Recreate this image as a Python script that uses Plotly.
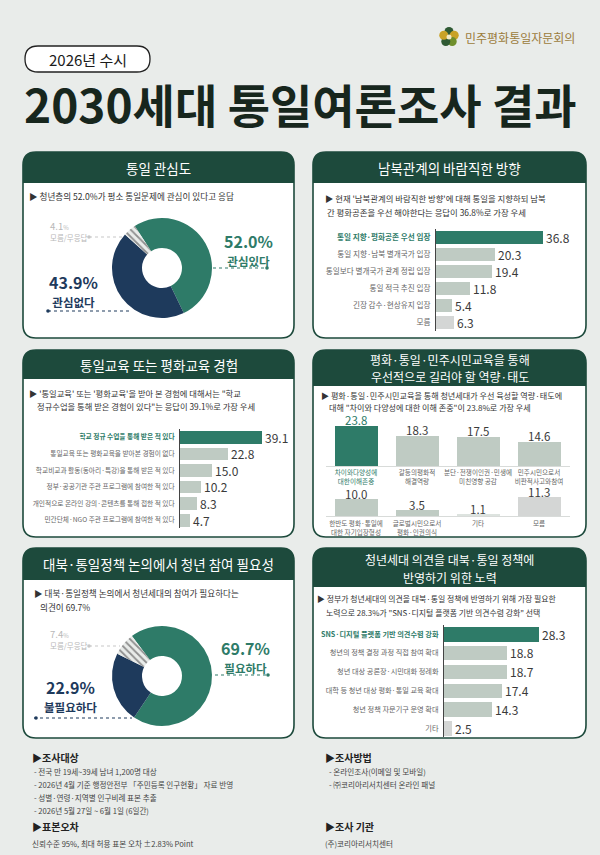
import plotly.graph_objects as go
import math

W, H = 600, 855
FONT = "Noto Sans CJK KR"
TEAL = "#2e7b68"
NAVY = "#1e3a5c"
DARK = "#1d4a3c"
BG = "#e9ecea"
GRAYG = "#bfcbc3"
LGRAY = "#d4d6d5"
VLGRAY = "#dde3df"
TXT = "#3a3a3a"
LBL = "#666666"

# ---------------- data ----------------
interest_labels = ["관심있다", "관심없다", "모름/무응답"]
interest_values = [52.0, 43.9, 4.1]

direction_labels = ["통일 지향·평화공존 우선 입장", "통일 지향·남북 별개국가 입장",
                    "통일보다 별개국가 관계 정립 입장", "통일 적극 추진 입장",
                    "긴장 감수·현상유지 입장", "모름"]
direction_values = [36.8, 20.3, 19.4, 11.8, 5.4, 6.3]

edu_labels = ["학교 정규 수업을 통해 받은 적 있다", "통일교육 또는 평화교육을 받아본 경험이 없다",
              "학교비교과 활동(동아리·특강)을 통해 받은 적 있다", "정부·공공기관 주관 프로그램에 참여한 적 있다",
              "개인적으로 온라인 강의·콘텐츠를 통해 접한 적 있다", "민간단체·NGO 주관 프로그램에 참여한 적 있다"]
edu_values = [39.1, 22.8, 15.0, 10.2, 8.3, 4.7]

comp_row1_labels = ["차이와다양성에<br>대한이해존중", "갈등의평화적<br>해결역량",
                    "분단·전쟁이인권·민생에<br>미친영향 공감", "민주시민으로서<br>비판적사고와참여"]
comp_row1_values = [23.8, 18.3, 17.5, 14.6]
comp_row2_labels = ["한반도 평화·통일에<br>대한 자기입장형성", "글로벌시민으로서<br>평화·인권의식", "기타", "모름"]
comp_row2_values = [10.0, 3.5, 1.1, 11.3]

need_labels = ["필요하다", "불필요하다", "모름/무응답"]
need_values = [69.7, 22.9, 7.4]

effort_labels = ["SNS·디지털 플랫폼 기반 의견수렴 강화", "청년의 정책 결정 과정 직접 참여 확대",
                 "청년 대상 공론장·시민대화 정례화", "대학 등 청년 대상 평화·통일 교육 확대",
                 "청년 정책 자문기구 운영 확대", "기타"]
effort_values = [28.3, 18.8, 18.7, 17.4, 14.3, 2.5]

# ---------------- helpers ----------------
def px(x):
    return x / W

def py(y):
    return 1 - y / H

def pth(x, y):
    return f"{px(x):.5f},{py(y):.5f}"

def rrect(x0, y0, x1, y1, r, top_only=False):
    s = f"M {pth(x0 + r, y0)} L {pth(x1 - r, y0)} Q {pth(x1, y0)} {pth(x1, y0 + r)} "
    if top_only:
        s += f"L {pth(x1, y1)} L {pth(x0, y1)} "
    else:
        s += (f"L {pth(x1, y1 - r)} Q {pth(x1, y1)} {pth(x1 - r, y1)} "
              f"L {pth(x0 + r, y1)} Q {pth(x0, y1)} {pth(x0, y1 - r)} ")
    s += f"L {pth(x0, y0 + r)} Q {pth(x0, y0)} {pth(x0 + r, y0)} Z"
    return s

shapes = []
annots = []

def ann(text, x, y, size, color=TXT, xanchor="left", bold=False, align="left"):
    if bold:
        text = f"<b>{text}</b>"
    annots.append(dict(text=text, x=px(x), y=py(y), xref="paper", yref="paper",
                       xanchor=xanchor, yanchor="middle", showarrow=False,
                       font=dict(family=FONT, size=size, color=color), align=align))

def dotline(x0, x1, y, color, dot_x):
    shapes.append(dict(type="line", xref="paper", yref="paper", x0=px(x0), x1=px(x1),
                       y0=py(y), y1=py(y), line=dict(color=color, width=1.2, dash="dot")))
    r = 1.8
    shapes.append(dict(type="circle", xref="paper", yref="paper", x0=px(dot_x - r), x1=px(dot_x + r),
                       y0=py(y - r), y1=py(y + r), fillcolor=color, line=dict(width=0)))

# ---------------- header ----------------
shapes.append(dict(type="path", xref="paper", yref="paper", path=rrect(25, 46, 150, 72, 13),
                   fillcolor="white", line=dict(color="#222", width=1.3), layer="below"))
ann("2026년 수시", 87.5, 59, 15, "#1b1b1b", "center")
ann("2030세대 통일여론조사 결과", 300, 103, 46, "#17261d", "center", bold=True)

# emblem
ecx, ecy = 449, 37
emb_cols = ["#2f5a34", "#c9a227", "#6f8f2c", "#2f5a34", "#c9a227"]
for i in range(5):
    a = math.radians(-90 + 72 * i)
    cx, cy = ecx + 5.5 * math.cos(a), ecy + 5.5 * math.sin(a)
    shapes.append(dict(type="circle", xref="paper", yref="paper", x0=px(cx - 4.5), x1=px(cx + 4.5),
                       y0=py(cy + 4.5), y1=py(cy - 4.5), fillcolor=emb_cols[i], line=dict(width=0)))
shapes.append(dict(type="circle", xref="paper", yref="paper", x0=px(ecx - 2.5), x1=px(ecx + 2.5),
                   y0=py(ecy + 2.5), y1=py(ecy - 2.5), fillcolor="#f3e9c6", line=dict(width=0)))
ann("민주평화통일자문회의", 463, 38, 12, "#9b7b3a")

# ---------------- panels ----------------
panels = [
    (23, 152, 294, 338, 183, ["통일 관심도"], 0),
    (313, 152, 586, 338, 183, ["남북관계의 바람직한 방향"], 0),
    (23, 350, 294, 537, 379, ["통일교육 또는 평화교육 경험"], 0),
    (313, 350, 586, 537, 386, ["평화·통일·민주시민교육을 통해", "우선적으로 길러야 할 역량·태도"], 0),
    (23, 548, 294, 738, 580, ["대북·통일정책 논의에서 청년 참여 필요성"], 0),
    (313, 548, 586, 738, 587, ["청년세대 의견을 대북·통일 정책에", "반영하기 위한 노력"], 1),
]
for (x0, y0, x1, y1, hy, titles, dy) in panels:
    shapes.append(dict(type="path", xref="paper", yref="paper", path=rrect(x0, y0, x1, y1, 13),
                       fillcolor="white", line=dict(width=0), layer="below"))
    shapes.append(dict(type="path", xref="paper", yref="paper", path=rrect(x0, y0, x1, hy, 13, True),
                       fillcolor=DARK, line=dict(width=0), layer="below"))
    shapes.append(dict(type="path", xref="paper", yref="paper", path=rrect(x0, y0, x1, y1, 13),
                       fillcolor="rgba(0,0,0,0)", line=dict(color=DARK, width=1.6), layer="below"))
    cx = (x0 + x1) / 2
    mid = (y0 + hy) / 2 + dy
    if len(titles) == 1:
        ann(titles[0], cx, mid, 13.5, "white", "center")
    else:
        ann(titles[0], cx, mid - 8.8, 12, "white", "center")
        ann(titles[1], cx, mid + 8.8, 12, "white", "center")

# subtitles
ann("▶ 청년층의 52.0%가 평소 통일문제에 관심이 있다고 응답", 27, 196, 8.6, "#333")
ann("▶ 현재 '남북관계의 바람직한 방향'에 대해 통일을 지향하되 남북", 323, 198, 8.4, "#333")
ann("간 평화공존을 우선 해야한다는 응답이 36.8%로 가장 우세", 325, 212, 8.4, "#333")
ann("▶ '통일교육' 또는 '평화교육'을 받아 본 경험에 대해서는 \"학교", 27, 393, 8.3, "#333")
ann("정규수업을 통해 받은 경험이 있다\"는 응답이 39.1%로 가장 우세", 35, 406, 8.3, "#333")
ann("▶ 평화·통일·민주시민교육을 통해 청년세대가 우선 육성할 역량·태도에", 319, 395, 8.1, "#333")
ann("대해 \"차이와 다양성에 대한 이해 존중\"이 23.8%로 가장 우세", 327, 408, 8.1, "#333")
ann("▶ 대북·통일정책 논의에서 청년세대의 참여가 필요하다는", 32, 593, 8.6, "#333")
ann("의견이 69.7%", 38, 607, 8.6, "#333")
ann("▶ 정부가 청년세대의 의견을 대북·통일 정책에 반영하기 위해 가장 필요한", 315, 598, 7.9, "#333")
ann("노력으로 28.3%가 \"SNS·디지털 플랫폼 기반 의견수렴 강화\" 선택", 324, 612, 7.9, "#333")

# ---------------- donuts ----------------
traces = []
def donut(labels, values, cx, cy, r, rot):
    traces.append(go.Pie(labels=labels, values=values, sort=False, direction="clockwise",
                         rotation=rot, hole=0.4, textinfo="none", hoverinfo="label+value",
                         domain=dict(x=[px(cx - r), px(cx + r)], y=[py(cy + r), py(cy - r)]),
                         marker=dict(colors=[TEAL, NAVY, "white"], line=dict(width=0),
                                     pattern=dict(shape=["", "", "\\"], fgcolor="#8f8f8f",
                                                  size=5, solidity=0.35)),
                         showlegend=False))

donut(interest_labels, interest_values, 162, 268, 50, -33)
donut(need_labels, need_values, 162, 676, 50, -37)

def big_label(value, label, x, y, color):
    ann(f"<b><span style='font-size:16px'>{value:.1f}%</span></b><br>"
        f"<b><span style='font-size:11.5px'>{label}</span></b>",
        x, y, 13.5, color, "center", align="center")

def small_label(value, label, x, y):
    ann(f"<span style='font-size:9.5px'>{value:.1f}<span style='font-size:6px'>%</span></span>"
        f"<br><span style='font-size:7.5px'>{label}</span>", x, y, 8.5, "#b8b8b8", "left", align="left")

# donut labels panel 1
big_label(interest_values[0], interest_labels[0], 248, 249, TEAL)
dotline(213, 267, 268, TEAL, 267)
big_label(interest_values[1], interest_labels[1], 73, 290, NAVY)
dotline(48, 130, 311, NAVY, 48)
small_label(interest_values[2], interest_labels[2], 48, 231)
dotline(89, 122, 237, "#c8c8c8", 89)

# donut labels panel 5
big_label(need_values[0], need_labels[0], 246, 656, TEAL)
dotline(215, 268, 675, TEAL, 268)
big_label(need_values[1], need_labels[1], 70, 695, NAVY)
dotline(34, 132, 718, NAVY, 36)
small_label(need_values[2], need_labels[2], 48, 639)
dotline(89, 120, 646, "#c8c8c8", 89)

# ---------------- horizontal bars ----------------
layout_axes = {}

def hbar(n, labels, values, colors, zero_x, ppu, rng, yc0, yc1, fsize):
    step = (yc1 - yc0) / (len(labels) - 1)
    ytop, ybot = yc0 - step / 2, yc1 + step / 2
    ticktext = [f"<b><span style='color:{TEAL}'>{labels[0]}</span></b>"] + labels[1:]
    traces.append(go.Bar(x=values, y=labels, orientation="h", xaxis=f"x{n}", yaxis=f"y{n}",
                         marker=dict(color=colors, line=dict(width=0)), width=0.76,
                         text=[f"{v:.1f}" for v in values], textposition="outside",
                         textfont=dict(family=FONT, size=12, color=TXT), cliponaxis=False,
                         constraintext="none", showlegend=False))
    layout_axes[f"xaxis{n}"] = dict(domain=[px(zero_x), px(zero_x + ppu * rng)], range=[0, rng],
                                    visible=False, anchor=f"y{n}", fixedrange=True)
    layout_axes[f"yaxis{n}"] = dict(domain=[py(ybot), py(ytop)], anchor=f"x{n}", type="category",
                                    categoryorder="array", categoryarray=labels,
                                    range=[len(labels) - 0.5, -0.5], showline=True,
                                    linecolor="#444", linewidth=1, ticks="", showgrid=False,
                                    zeroline=False, tickmode="array", tickvals=labels,
                                    ticktext=ticktext, tickfont=dict(family=FONT, size=fsize, color=LBL),
                                    ticklabelstandoff=3, fixedrange=True)

hbar(2, direction_labels, direction_values, [TEAL, GRAYG, GRAYG, GRAYG, GRAYG, LGRAY],
     436, 2.91, 45, 237, 322, 7.6)
hbar(3, edu_labels, edu_values, [TEAL, GRAYG, GRAYG, GRAYG, GRAYG, GRAYG],
     180, 2.1, 50, 437, 520, 6.7)
hbar(6, effort_labels, effort_values, [TEAL, GRAYG, GRAYG, GRAYG, GRAYG, LGRAY],
     444, 3.36, 40, 634, 728, 7.2)

# ---------------- vertical bars (panel 4) ----------------
def vbar(n, labels, values, colors, tcolors, base_y, first_teal, standoff, yshift):
    ticktext = list(labels)
    if first_teal:
        ticktext[0] = f"<span style='color:{TEAL}'>{labels[0]}</span>"
    traces.append(go.Bar(x=labels, y=values, xaxis=f"x{n}", yaxis=f"y{n}",
                         marker=dict(color=colors, line=dict(width=0)), width=0.69,
                         cliponaxis=False, showlegend=False))
    for lab, v, c in zip(labels, values, tcolors):
        annots.append(dict(text=f"{v:.1f}", x=lab, y=v, xref=f"x{n}", yref=f"y{n}",
                           xanchor="center", yanchor="bottom", yshift=yshift, showarrow=False,
                           borderpad=0, font=dict(family=FONT, size=11.5, color=c)))
    layout_axes[f"xaxis{n}"] = dict(domain=[px(325.5), px(569.5)], anchor=f"y{n}", type="category",
                                    categoryorder="array", categoryarray=labels, range=[-0.5, 3.5],
                                    showline=True, linecolor="#d8dbd9", linewidth=1, ticks="",
                                    showgrid=False, zeroline=False, tickmode="array", tickvals=labels,
                                    ticktext=ticktext, tickangle=0,
                                    tickfont=dict(family=FONT, size=6.6, color=LBL),
                                    ticklabelstandoff=standoff, fixedrange=True)
    layout_axes[f"yaxis{n}"] = dict(domain=[py(base_y), py(base_y - 50)], range=[0, 30],
                                    visible=False, anchor=f"x{n}", fixedrange=True)

vbar(4, comp_row1_labels, comp_row1_values, [TEAL, GRAYG, GRAYG, GRAYG],
     [TEAL, TXT, TXT, TXT], 466, True, 0, -3)
vbar(5, comp_row2_labels, comp_row2_values, [GRAYG, GRAYG, VLGRAY, LGRAY],
     [TXT, TXT, TXT, TXT], 516, False, 1, -4)

# ---------------- footer ----------------
ann("<b>▶조사대상</b>", 30, 757, 10, "#222")
for i, t in enumerate(["- 전국 만 19세~39세 남녀 1,200명 대상",
                       "- 2026년 4월 기준 행정안전부 「주민등록 인구현황」 자료 반영",
                       "- 성별·연령·지역별 인구비례 표본 추출",
                       "- 2026년 5월 27일 ~ 6월 1일 (6일간)"]):
    ann(t, 32, 771 + 13 * i, 7.6, "#444")
ann("<b>▶표본오차</b>", 30, 826, 10, "#222")
ann("신뢰수준 95%, 최대 허용 표본 오차 ±2.83% Point", 30, 843, 7.6, "#444")
ann("<b>▶조사방법</b>", 323, 757, 10, "#222")
ann("- 온라인조사(이메일 및 모바일)", 327, 771, 7.6, "#444")
ann("- ㈜코리아리서치센터 온라인 패널", 327, 784, 7.6, "#444")
ann("<b>▶조사 기관</b>", 323, 826, 10, "#222")
ann("(주)코리아리서치센터", 323, 843, 7.6, "#444")

fig = go.Figure(data=traces)
fig.update_layout(width=W, height=H, margin=dict(l=0, r=0, t=0, b=0, pad=0),
                  paper_bgcolor=BG, plot_bgcolor="rgba(0,0,0,0)", showlegend=False,
                  font=dict(family=FONT), shapes=shapes, annotations=annots,
                  bargap=0, **layout_axes)
fig.write_html("out.html")
